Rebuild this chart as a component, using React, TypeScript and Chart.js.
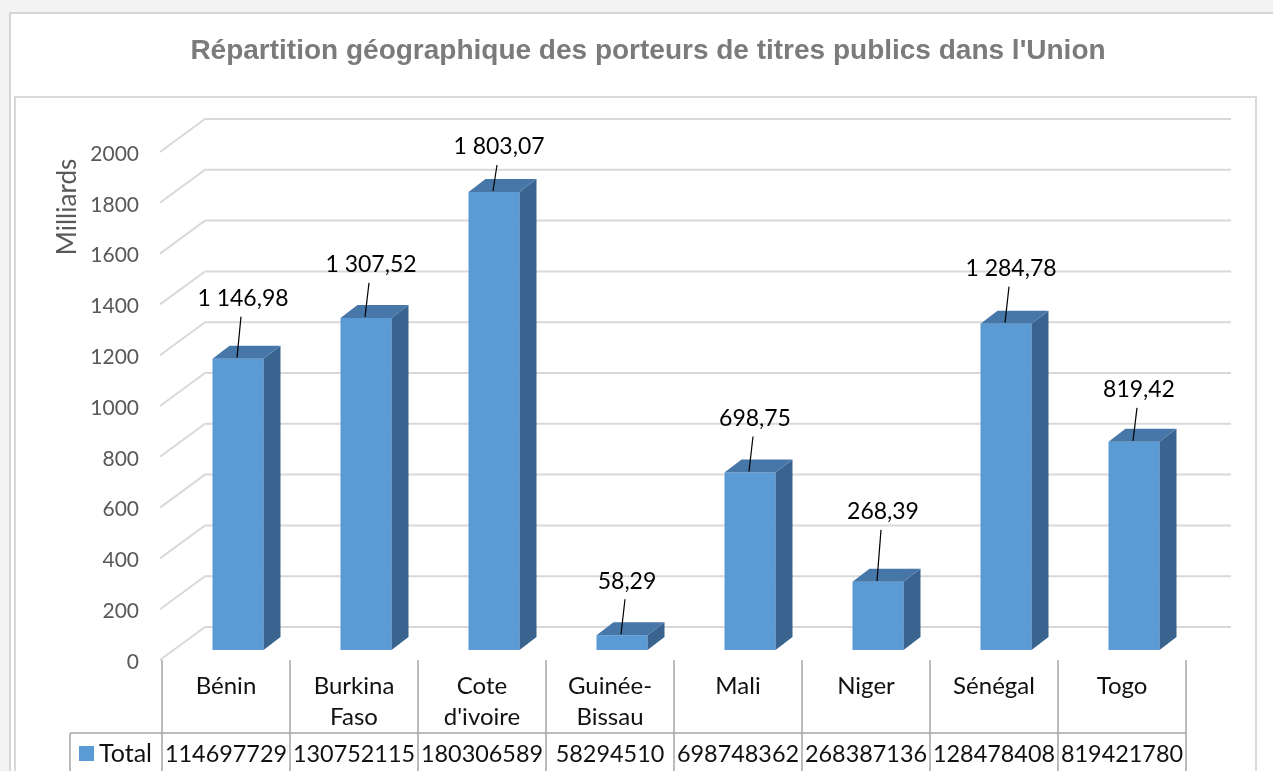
import React, { useEffect, useRef } from "react";
import { Chart, registerables } from "chart.js";

Chart.register(...registerables);

const chartTitle = "Répartition géographique des porteurs de titres publics dans l'Union";
const yAxisTitle = "Milliards";
const categories: string[][] = [
  ["Bénin"],
  ["Burkina", "Faso"],
  ["Cote", "d'ivoire"],
  ["Guinée-", "Bissau"],
  ["Mali"],
  ["Niger"],
  ["Sénégal"],
  ["Togo"],
];
const values = [1146.98, 1307.52, 1803.07, 58.29, 698.75, 268.39, 1284.78, 819.42];
const tableValues = [
  "114697729",
  "130752115",
  "180306589",
  "58294510",
  "698748362",
  "268387136",
  "128478408",
  "819421780",
];
const seriesName = "Total";
const yTicks = [0, 200, 400, 600, 800, 1000, 1200, 1400, 1600, 1800, 2000];
const Y_MAX = 2000;

// label lift above each bar top (styling)
const labelLift = [60, 53, 45, 54, 54, 70, 55, 52];

const FONT = "Lato, 'Open Sans', sans-serif";
const BLUE = "#5B9BD5";
const BLUE_TOP = "#4677a8";
const BLUE_SIDE = "#3a6490";

function fmtFr(v: number): string {
  const [i, d] = v.toFixed(2).split(".");
  const int = i.replace(/\B(?=(\d{3})+(?!\d))/g, " ");
  return int + "," + d;
}

const W = 1273;
const H = 771;

export default function App() {
  const ref = useRef<HTMLCanvasElement | null>(null);
  useEffect(() => {
    const canvas = ref.current!;
    const dx = 17;
    const dy = -13;
    const frontOff = { x: -12, y: 10 };
    const backOff = { x: 33, y: -23 };

    const backgroundPlugin = {
      id: "bg3d",
      beforeDraw(chart: any) {
        const ctx = chart.ctx as CanvasRenderingContext2D;
        const ca = chart.chartArea;
        const ys = chart.scales.y;
        ctx.save();
        // page background
        ctx.fillStyle = "#f3f3f3";
        ctx.fillRect(0, 0, W, H);
        ctx.fillStyle = "#ffffff";
        ctx.fillRect(10, 13, W - 10, H - 13);
        ctx.strokeStyle = "#d6d6d6";
        ctx.lineWidth = 2;
        ctx.beginPath();
        ctx.moveTo(10, H);
        ctx.lineTo(10, 13);
        ctx.lineTo(W, 13);
        ctx.stroke();
        // inner plot box
        ctx.strokeStyle = "#dadada";
        ctx.beginPath();
        ctx.moveTo(15, H);
        ctx.lineTo(15, 97);
        ctx.lineTo(1256, 97);
        ctx.lineTo(1256, H);
        ctx.stroke();

        // title
        ctx.fillStyle = "#7b7b7b";
        ctx.font = "bold 28px 'Liberation Sans', Arial, sans-serif";
        ctx.textAlign = "center";
        ctx.textBaseline = "middle";
        ctx.fillText(chartTitle, 648, 51);

        // y axis title
        ctx.save();
        ctx.translate(68, 207);
        ctx.rotate(-Math.PI / 2);
        ctx.fillStyle = "#595959";
        ctx.font = `26px ${FONT}`;
        ctx.fillText(yAxisTitle, 0, 0);
        ctx.restore();

        // back wall gridlines and side diagonals
        const frontX = ca.left + frontOff.x;
        const colW = (ca.right - ca.left) / categories.length;
        const tableLeft = ca.left - 12;
        const tableRight = tableLeft + colW * categories.length;
        ctx.strokeStyle = "#d9d9d9";
        ctx.lineWidth = 2;
        for (const t of yTicks) {
          const yb = ys.getPixelForValue(t);
          const yF = yb + frontOff.y;
          const yB = yb + backOff.y;
          const xF = frontX - 2;
          const xB = frontX + 43;
          ctx.beginPath();
          ctx.moveTo(xF, yF);
          ctx.lineTo(xB, yB);
          ctx.lineTo(1231, yB);
          ctx.stroke();
        }

        // y tick labels (front plane)
        ctx.fillStyle = "#595959";
        ctx.font = `21px ${FONT}`;
        ctx.textAlign = "right";
        ctx.textBaseline = "middle";
        for (const t of yTicks) {
          const y = ys.getPixelForValue(t) + frontOff.y + 2;
          ctx.fillText(String(t), 139, y);
        }

        // data table
        const zeroY = ys.getPixelForValue(0) + frontOff.y;
        ctx.strokeStyle = "#a6a6a6";
        ctx.lineWidth = 1.5;
        for (let i = 0; i <= categories.length; i++) {
          const x = tableLeft + colW * i;
          ctx.beginPath();
          ctx.moveTo(x, zeroY);
          ctx.lineTo(x, H);
          ctx.stroke();
        }
        const rowY = 733;
        ctx.beginPath();
        ctx.moveTo(70, rowY);
        ctx.lineTo(tableRight, rowY);
        ctx.stroke();
        ctx.beginPath();
        ctx.moveTo(70, rowY);
        ctx.lineTo(70, H);
        ctx.stroke();

        ctx.fillStyle = "#111111";
        ctx.font = `24px ${FONT}`;
        ctx.textAlign = "center";
        ctx.textBaseline = "middle";
        categories.forEach((lines, i) => {
          const cx = tableLeft + colW * (i + 0.5);
          lines.forEach((ln, j) => {
            ctx.fillText(ln, cx, 686 + j * 31);
          });
        });
        ctx.font = `23.4px ${FONT}`;
        tableValues.forEach((v, i) => {
          const cx = tableLeft + colW * (i + 0.5);
          ctx.fillText(v, cx, 754);
        });
        // legend key
        ctx.fillStyle = BLUE;
        ctx.fillRect(79, 746, 15, 15);
        ctx.fillStyle = "#111111";
        ctx.textAlign = "left";
        ctx.font = `25px ${FONT}`;
        ctx.fillText(seriesName, 99, 754);
        ctx.restore();
      },
    };

    const facesPlugin = {
      id: "faces3d",
      afterDatasetsDraw(chart: any) {
        const ctx = chart.ctx as CanvasRenderingContext2D;
        const meta = chart.getDatasetMeta(0);
        ctx.save();
        meta.data.forEach((bar: any, i: number) => {
          const { x, y, base, width } = bar.getProps(["x", "y", "base", "width"], true);
          const l = x - width / 2;
          const r = x + width / 2;
          // side face
          ctx.fillStyle = BLUE_SIDE;
          ctx.beginPath();
          ctx.moveTo(r, y);
          ctx.lineTo(r + dx, y + dy);
          ctx.lineTo(r + dx, base + dy);
          ctx.lineTo(r, base);
          ctx.closePath();
          ctx.fill();
          // top face
          ctx.fillStyle = BLUE_TOP;
          ctx.beginPath();
          ctx.moveTo(l, y);
          ctx.lineTo(l + dx, y + dy);
          ctx.lineTo(r + dx, y + dy);
          ctx.lineTo(r, y);
          ctx.closePath();
          ctx.fill();

          // data label with leader line
          const ly = y - labelLift[i];
          const lx = x + 5;
          ctx.fillStyle = "#000000";
          ctx.font = `23px ${FONT}`;
          ctx.textAlign = "center";
          ctx.textBaseline = "middle";
          ctx.fillText(fmtFr(values[i]), lx, ly);
          ctx.strokeStyle = "#000000";
          ctx.lineWidth = 1.2;
          ctx.beginPath();
          ctx.moveTo(lx - 2, ly + 18);
          ctx.lineTo(x - 1, y - 1);
          ctx.stroke();
        });
        ctx.restore();
      },
    };

    const chart = new Chart(canvas, {
      type: "bar",
      data: {
        labels: categories.map((c) => c.join(" ")),
        datasets: [
          {
            label: seriesName,
            data: values,
            backgroundColor: BLUE,
            borderWidth: 0,
            categoryPercentage: 1,
            barPercentage: 51 / 128,
          },
        ],
      },
      options: {
        animation: false,
        responsive: false,
        devicePixelRatio: 1,
        layout: { padding: { left: 174, right: W - 1198, top: 142, bottom: H - 650 } },
        scales: {
          x: { display: false, offset: true },
          y: { display: false, min: 0, max: Y_MAX },
        },
        plugins: {
          legend: { display: false },
          tooltip: { enabled: false },
          title: { display: false },
        },
      },
      plugins: [backgroundPlugin, facesPlugin],
    });
    return () => chart.destroy();
  }, []);

  return (
    <div style={{ position: "absolute", left: 0, top: 0, width: W, height: H, overflow: "hidden" }}>
      <canvas ref={ref} width={W} height={H} style={{ width: W, height: H, display: "block" }} />
    </div>
  );
}
